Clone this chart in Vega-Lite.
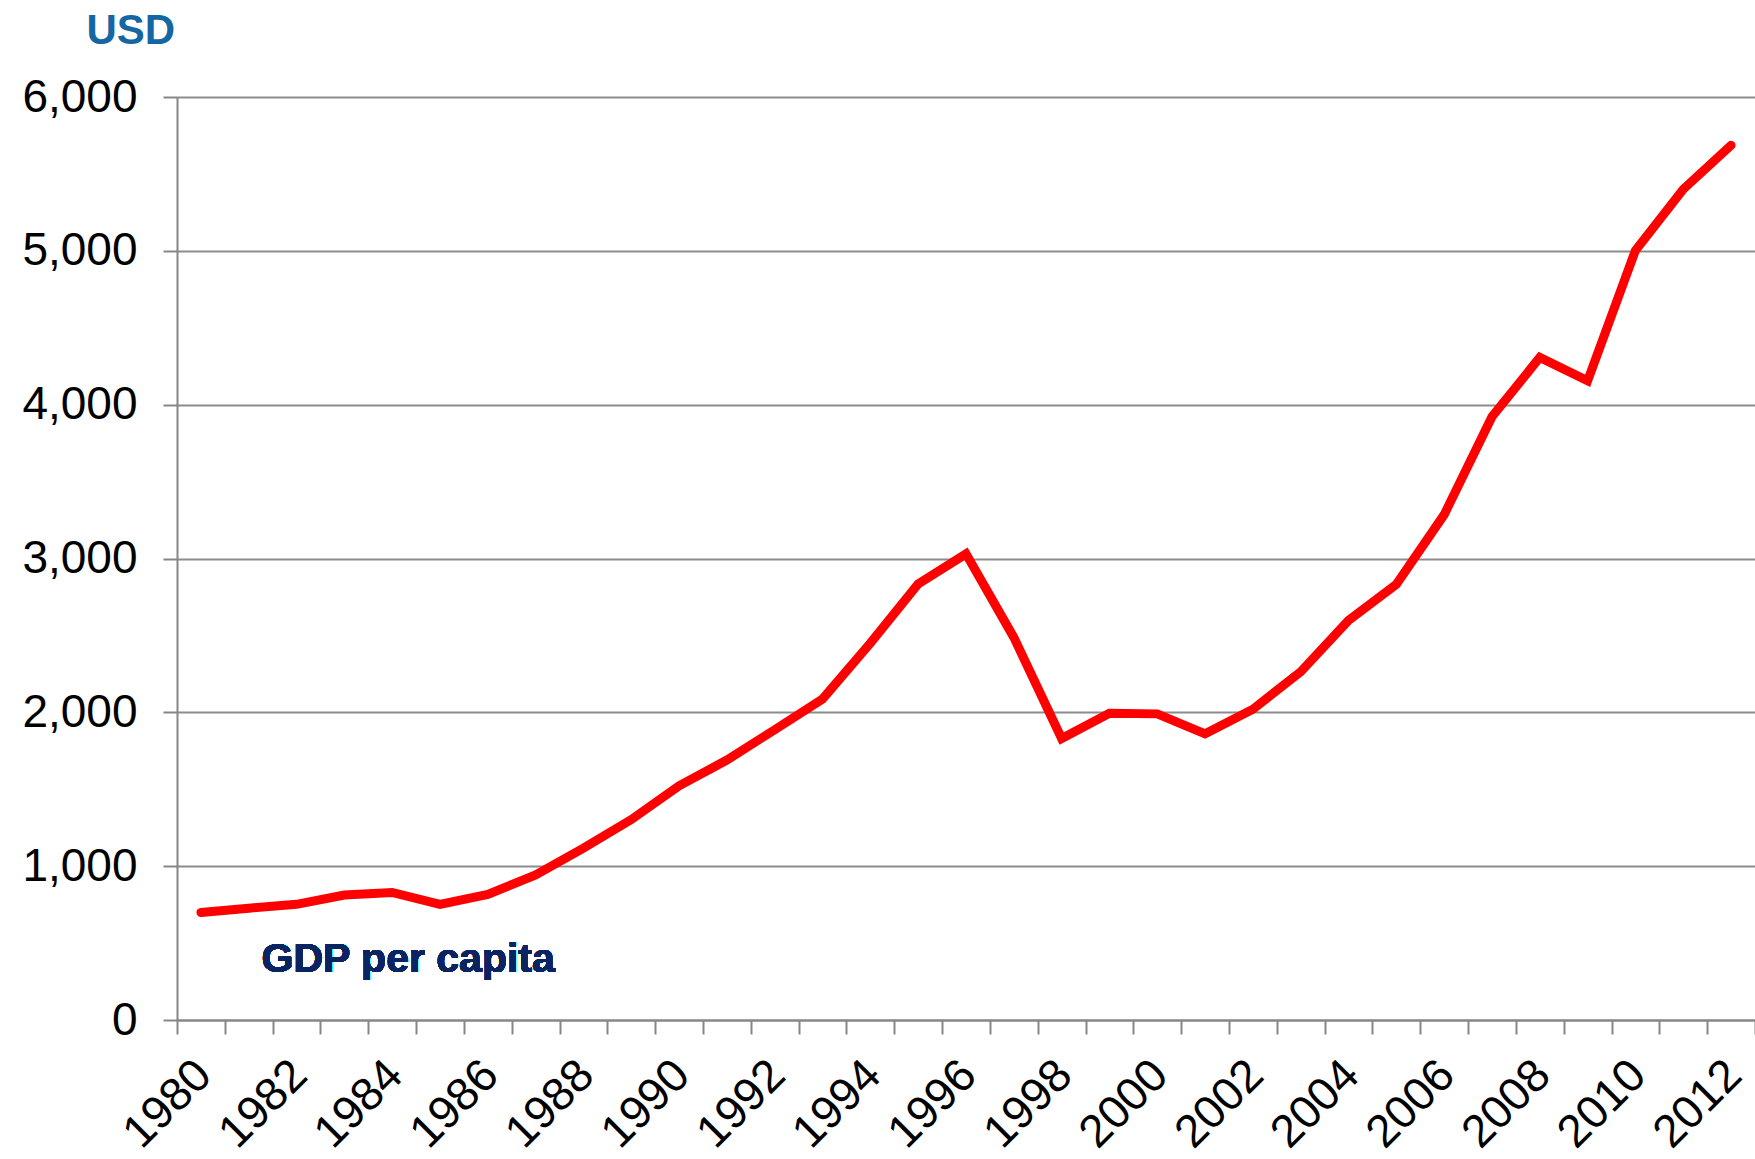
{
  "$schema": "https://vega.github.io/schema/vega-lite/v6.json",
  "width": 1578,
  "height": 923,
  "autosize": {"type": "none"},
  "padding": {"left": 177, "top": 97, "right": 0, "bottom": 139},
  "background": "white",
  "config": {
    "font": "Liberation Sans",
    "view": {"stroke": null}
  },
  "data": {
    "values": [
      {"year": 1980, "gdp": 699},
      {"year": 1981, "gdp": 727},
      {"year": 1982, "gdp": 752},
      {"year": 1983, "gdp": 812},
      {"year": 1984, "gdp": 829},
      {"year": 1985, "gdp": 752},
      {"year": 1986, "gdp": 816},
      {"year": 1987, "gdp": 943},
      {"year": 1988, "gdp": 1117},
      {"year": 1989, "gdp": 1303},
      {"year": 1990, "gdp": 1523},
      {"year": 1991, "gdp": 1690},
      {"year": 1992, "gdp": 1887},
      {"year": 1993, "gdp": 2087},
      {"year": 1994, "gdp": 2450},
      {"year": 1995, "gdp": 2835},
      {"year": 1996, "gdp": 3030},
      {"year": 1997, "gdp": 2487},
      {"year": 1998, "gdp": 1830},
      {"year": 1999, "gdp": 1994},
      {"year": 2000, "gdp": 1990},
      {"year": 2001, "gdp": 1860},
      {"year": 2002, "gdp": 2020},
      {"year": 2003, "gdp": 2264},
      {"year": 2004, "gdp": 2598},
      {"year": 2005, "gdp": 2832},
      {"year": 2006, "gdp": 3285},
      {"year": 2007, "gdp": 3922},
      {"year": 2008, "gdp": 4307},
      {"year": 2009, "gdp": 4155},
      {"year": 2010, "gdp": 5003},
      {"year": 2011, "gdp": 5400},
      {"year": 2012, "gdp": 5686}
    ]
  },
  "layer": [
    {
      "mark": {"type": "line", "color": "#FF0000", "strokeWidth": 9, "strokeCap": "round", "strokeJoin": "miter"},
      "encoding": {
        "x": {
          "field": "year",
          "type": "ordinal",
          "bandPosition": 0.5,
          "scale": {"type": "band", "paddingInner": 0, "paddingOuter": 0},
          "axis": {
            "title": null,
            "tickBand": "extent",
            "labelExpr": "datum.value % 2 == 0 ? datum.label : ''",
            "labelAngle": -45,
            "labelAlign": "right",
            "labelBaseline": "top",
            "labelFontSize": 46,
            "labelColor": "#000000",
            "labelPadding": 18,
            "labelOffset": -13,
            "labelOverlap": false,
            "domainColor": "#868686",
            "domainWidth": 2,
            "tickColor": "#868686",
            "tickWidth": 2,
            "tickSize": 14,
            "grid": false
          }
        },
        "y": {
          "field": "gdp",
          "type": "quantitative",
          "scale": {"domain": [0, 6000], "nice": false, "zero": true},
          "axis": {
            "title": "USD",
            "titleAngle": 0,
            "titleAlign": "left",
            "titleBaseline": "alphabetic",
            "titleX": -91,
            "titleY": -54,
            "titleFontSize": 42,
            "titleFontWeight": "bold",
            "titleColor": "#1567A3",
            "values": [0, 1000, 2000, 3000, 4000, 5000, 6000],
            "format": ",.0f",
            "labelFontSize": 46,
            "labelColor": "#000000",
            "labelPadding": 26,
            "domainColor": "#868686",
            "domainWidth": 2,
            "tickColor": "#868686",
            "tickWidth": 2,
            "tickSize": 14,
            "grid": true,
            "gridColor": "#8C8C8C",
            "gridWidth": 2
          }
        }
      }
    },
    {
      "mark": {"type": "text", "text": "GDP per capita", "fontSize": 41, "fontWeight": "bold", "color": "#0A2463", "align": "center", "baseline": "alphabetic", "dx": 16},
      "encoding": {
        "x": {"datum": 1984, "type": "ordinal", "bandPosition": 0.5},
        "y": {"datum": 312, "type": "quantitative"}
      }
    }
  ]
}
